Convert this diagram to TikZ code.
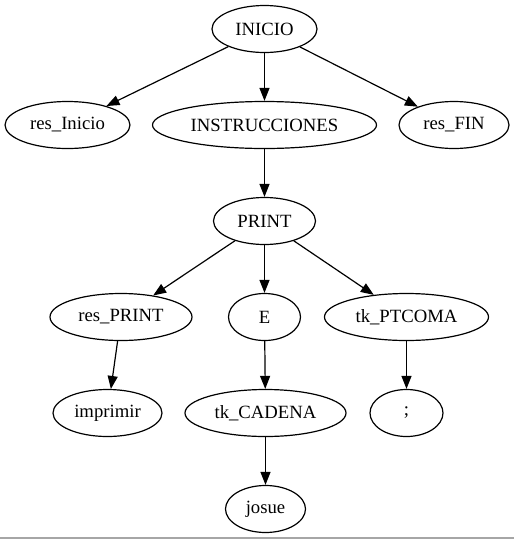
\documentclass[tikz,border=0pt]{standalone}
\usepackage{fontspec}
\setmainfont{Liberation Serif}
\newfontfamily\graphfont{Liberation Serif}
\usetikzlibrary{shapes.geometric,arrows.meta}
\tikzset{
  tn/.style={draw=black, ellipse, line width=1.2pt, inner sep=0pt, minimum height=47pt, font=\graphfont\fontsize{18.7}{20}\selectfont},
  edge/.style={draw=black, line width=1.2pt, -{Triangle[length=13pt,width=10pt]}},
}
\begin{document}
\begin{tikzpicture}[x=1pt,y=-1pt]
\useasboundingbox[fill=white] (0,0) rectangle (514,539);
\node[tn, minimum width=105pt] (inicio) at (264.5,29) {INICIO};
\node[tn, minimum width=125pt] (resinicio) at (67.5,125) {res\_Inicio};
\node[tn, minimum width=224pt] (instr) at (264.5,125) {INSTRUCCIONES};
\node[tn, minimum width=110pt] (resfin) at (454,125) {res\_FIN};
\node[tn, minimum width=102pt] (print) at (264.5,221) {PRINT};
\node[tn, minimum width=142pt] (resprint) at (121,317) {res\_PRINT};
\node[tn, minimum width=72pt] (e) at (264.5,317) {E};
\node[tn, minimum width=164pt] (ptcoma) at (406.5,317) {tk\_PTCOMA};
\node[tn, minimum width=109pt] (imprimir) at (107.5,413) {imprimir};
\node[tn, minimum width=161pt] (cadena) at (265.5,413) {tk\_CADENA};
\node[tn, minimum width=73pt] (semi) at (406.5,413) {;};
\node[tn, minimum width=80pt] (josue) at (265.5,509) {josue};
\draw[edge] (inicio) -- (resinicio);
\draw[edge] (inicio) -- (instr);
\draw[edge] (inicio) -- (resfin);
\draw[edge] (instr) -- (print);
\draw[edge] (print) -- (resprint);
\draw[edge] (print) -- (e);
\draw[edge] (print) -- (ptcoma);
\draw[edge] (resprint) -- (imprimir);
\draw[edge] (e) -- (cadena);
\draw[edge] (ptcoma) -- (semi);
\draw[edge] (cadena) -- (josue);
\coordinate (bl) at (0,537.8);
\coordinate (br) at (514,537.8);
\draw[color=black!35, line width=1.5pt] (bl) -- (br);
\end{tikzpicture}
\end{document}
